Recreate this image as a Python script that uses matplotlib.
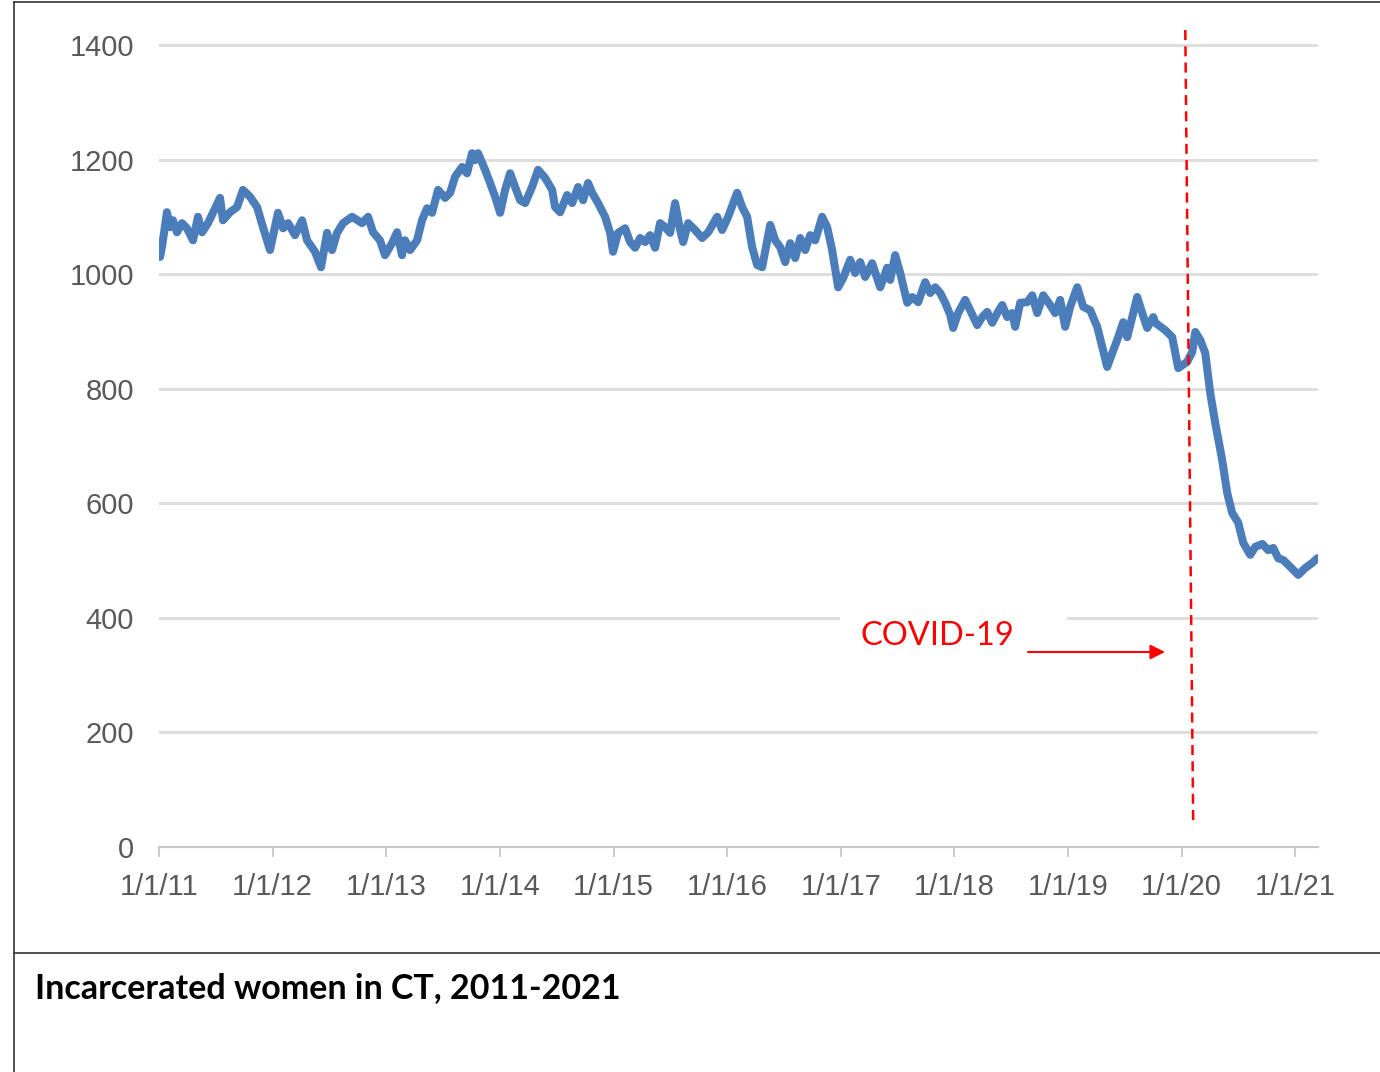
import matplotlib.pyplot as plt
from matplotlib.lines import Line2D
from matplotlib.patches import Rectangle

# years since 1/1/11 and number of incarcerated women
t = [0.009, 0.026, 0.070, 0.097, 0.123, 0.158, 0.202, 0.246, 0.299, 0.343,
     0.379, 0.431, 0.475, 0.537, 0.563, 0.625, 0.687, 0.739, 0.801, 0.863,
     0.915, 0.977, 1.047, 1.092, 1.136, 1.197, 1.259, 1.303, 1.373, 1.426,
     1.479, 1.523, 1.567, 1.620, 1.699, 1.787, 1.840, 1.884, 1.945, 1.989,
     2.051, 2.095, 2.139, 2.165, 2.210, 2.271, 2.315, 2.359, 2.403, 2.456,
     2.518, 2.562, 2.606, 2.667, 2.711, 2.755, 2.782, 2.808, 2.870, 2.914,
     2.958, 3.002, 3.046, 3.090, 3.134, 3.178, 3.222, 3.283, 3.336, 3.398,
     3.460, 3.486, 3.530, 3.592, 3.636, 3.688, 3.732, 3.776, 3.812, 3.864,
     3.926, 3.970, 3.996, 4.040, 4.102, 4.146, 4.190, 4.234, 4.278, 4.322,
     4.366, 4.410, 4.454, 4.498, 4.542, 4.586, 4.613, 4.657, 4.718, 4.780,
     4.833, 4.912, 4.956, 5.009, 5.088, 5.132, 5.176, 5.220, 5.264, 5.308,
     5.379, 5.423, 5.467, 5.511, 5.555, 5.599, 5.643, 5.687, 5.731, 5.775,
     5.836, 5.880, 5.924, 5.977, 6.021, 6.083, 6.127, 6.171, 6.215, 6.276,
     6.347, 6.408, 6.435, 6.479, 6.523, 6.585, 6.629, 6.681, 6.743, 6.787,
     6.831, 6.875, 6.919, 6.963, 6.989, 7.033, 7.095, 7.139, 7.201, 7.245,
     7.289, 7.333, 7.377, 7.421, 7.465, 7.509, 7.535, 7.579, 7.641, 7.685,
     7.729, 7.782, 7.843, 7.887, 7.931, 7.975, 8.019, 8.081, 8.134, 8.195,
     8.257, 8.301, 8.345, 8.389, 8.442, 8.486, 8.521, 8.565, 8.609, 8.653,
     8.697, 8.750, 8.768, 8.856, 8.917, 8.970, 9.049, 9.093, 9.120, 9.164,
     9.208, 9.252, 9.296, 9.357, 9.401, 9.445, 9.498, 9.542, 9.604, 9.648,
     9.710, 9.762, 9.806, 9.850, 9.894, 9.956, 10.026, 10.088, 10.150, 10.194]
women = [1030, 1047, 1108, 1082, 1094, 1073, 1089, 1080, 1059, 1100,
         1073, 1089, 1107, 1133, 1094, 1108, 1117, 1147, 1135, 1117,
         1082, 1042, 1107, 1080, 1089, 1068, 1094, 1059, 1039, 1012,
         1072, 1042, 1072, 1089, 1100, 1089, 1100, 1073, 1059, 1033,
         1054, 1073, 1033, 1059, 1042, 1059, 1094, 1115, 1107, 1147,
         1133, 1142, 1170, 1187, 1176, 1211, 1199, 1211, 1182, 1159,
         1135, 1107, 1147, 1176, 1152, 1129, 1124, 1152, 1182, 1168,
         1147, 1117, 1108, 1138, 1124, 1152, 1129, 1159, 1142, 1124,
         1100, 1072, 1039, 1072, 1080, 1056, 1046, 1063, 1056, 1068,
         1046, 1089, 1082, 1072, 1124, 1077, 1056, 1089, 1077, 1063,
         1073, 1100, 1077, 1100, 1142, 1117, 1100, 1047, 1016, 1012,
         1086, 1059, 1047, 1021, 1054, 1028, 1063, 1042, 1068, 1059,
         1100, 1082, 1042, 977, 993, 1025, 1002, 1021, 995, 1019,
         977, 1011, 990, 1033, 1002, 950, 960, 951, 986, 967,
         977, 967, 950, 929, 906, 932, 955, 937, 911, 925,
         934, 915, 932, 946, 925, 932, 908, 950, 951, 963,
         932, 963, 946, 932, 955, 908, 943, 977, 943, 937,
         908, 873, 838, 862, 890, 916, 890, 925, 960, 932,
         906, 925, 915, 902, 890, 836, 847, 864, 899, 885,
         862, 792, 740, 675, 618, 583, 566, 531, 510, 524,
         529, 518, 522, 504, 501, 489, 475, 487, 496, 504]

tick_years = list(range(2011, 2022))
tick_labels = ['1/1/%d' % (y - 2000) for y in tick_years]
y_ticks = [0, 200, 400, 600, 800, 1000, 1200, 1400]

W, H = 1380, 1072
fig = plt.figure(figsize=(W / 100, H / 100), dpi=100)
ax = fig.add_axes([159 / W, 1 - 847 / H, (1318 - 159) / W, (847 - 33.5) / H])

years = [2011 + v for v in t]
ax.plot(years, women, color='#4a7dba', lw=5.8, solid_joinstyle='round',
        solid_capstyle='round', zorder=3)

ax.set_xlim(2011, 2021.2)
ax.set_ylim(0, 1420)
ax.set_yticks(y_ticks)
ax.set_xticks(tick_years)
ax.set_xticklabels(tick_labels)
ax.yaxis.grid(True, color='#dedede', lw=2.2)
ax.set_axisbelow(True)

for s in ['top', 'right', 'left']:
    ax.spines[s].set_visible(False)
ax.spines['bottom'].set_color('#c8c8c8')
ax.spines['bottom'].set_linewidth(1.5)

ax.tick_params(axis='y', length=0, pad=18, labelsize=21, labelcolor='#595959')
ax.tick_params(axis='x', length=7, width=1.3, color='#c8c8c8', pad=12,
               labelsize=21, labelcolor='#595959')
for lab in ax.get_xticklabels() + ax.get_yticklabels():
    lab.set_family('Liberation Sans')

# covid marker
ax.plot([2020.032, 2020.102], [1426, 38], color='red', lw=1.8,
        ls=(0, (4, 2.5)), clip_on=False, zorder=4)

# white patch behind the label
ax.add_patch(Rectangle((840 / W, 1 - 700 / H), 227 / W, 88 / H,
                       transform=fig.transFigure, facecolor='white',
                       edgecolor='none', zorder=1, clip_on=False))
fig.text(860 / W, 1 - 645 / H, 'COVID-19', color='red', fontsize=23.5,
         family='Lato', va='baseline')
ax.annotate('', xy=(1165 / W, 1 - 652 / H), xytext=(1028 / W, 1 - 652 / H),
            xycoords='figure fraction', textcoords='figure fraction',
            arrowprops=dict(arrowstyle='-|>', color='red', lw=1.5,
                            mutation_scale=22, shrinkA=0, shrinkB=0))

# caption
fig.text(35 / W, 1 - 998 / H, 'Incarcerated women in CT, 2011-2021',
         fontsize=24.5, fontweight='bold', family='Lato', va='baseline')

# frame lines
fig.add_artist(Line2D([14 / W, 14 / W], [0, 1 - 2 / H], color='#333333', lw=1.2))
fig.add_artist(Line2D([14 / W, 1], [1 - 2 / H, 1 - 2 / H], color='#333333', lw=1.2))
fig.add_artist(Line2D([14 / W, 1], [1 - 953 / H, 1 - 953 / H], color='#333333', lw=1.2))

fig.savefig('out.png', dpi=100)
